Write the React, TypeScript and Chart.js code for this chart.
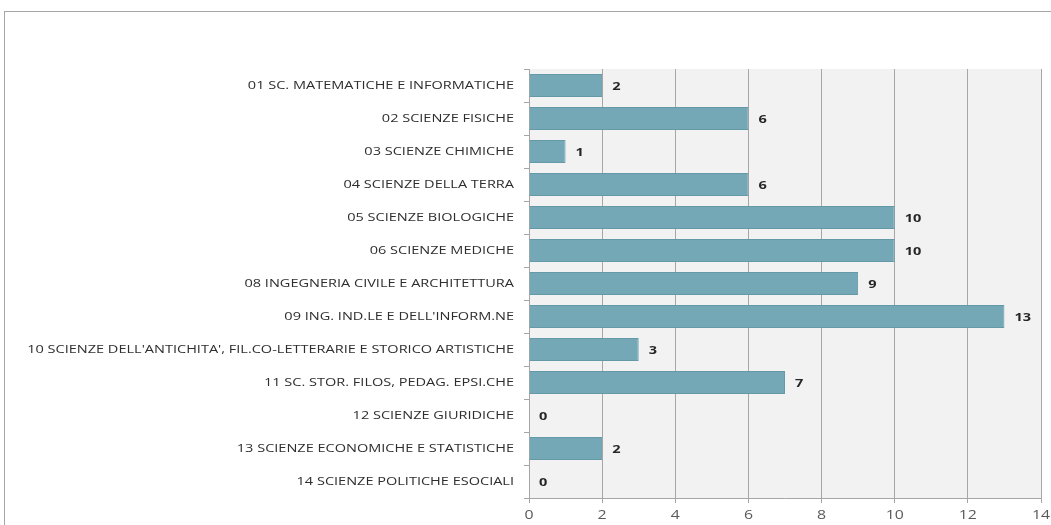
import React, { useEffect, useRef } from "react";
import { Chart, registerables } from "chart.js";

Chart.register(...registerables);

const categories: string[] = [
  "01 SC. MATEMATICHE E INFORMATICHE",
  "02 SCIENZE FISICHE",
  "03 SCIENZE CHIMICHE",
  "04 SCIENZE DELLA TERRA",
  "05 SCIENZE BIOLOGICHE",
  "06 SCIENZE MEDICHE",
  "08 INGEGNERIA CIVILE E ARCHITETTURA",
  "09 ING. IND.LE E DELL'INFORM.NE",
  "10 SCIENZE DELL'ANTICHITA', FIL.CO-LETTERARIE E STORICO ARTISTICHE",
  "11 SC. STOR. FILOS, PEDAG. EPSI.CHE",
  "12 SCIENZE GIURIDICHE",
  "13 SCIENZE ECONOMICHE E STATISTICHE",
  "14 SCIENZE POLITICHE ESOCIALI",
];
const values: number[] = [2, 6, 1, 6, 10, 10, 9, 13, 3, 7, 0, 2, 0];
const xTicks: number[] = [0, 2, 4, 6, 8, 10, 12, 14];

const FONT = "'Open Sans', sans-serif";
const SX = 1.32;

function stretchedText(ctx: CanvasRenderingContext2D, text: string, x: number, y: number, align: CanvasTextAlign) {
  ctx.save();
  ctx.translate(x, y);
  ctx.scale(SX, 1);
  ctx.textAlign = align;
  ctx.textBaseline = "middle";
  ctx.fillText(text, 0, 0);
  ctx.restore();
}

export default function App() {
  const ref = useRef<HTMLCanvasElement | null>(null);
  useEffect(() => {
    if (!ref.current) return;
    const bgPlugin = {
      id: "bgPlugin",
      beforeDraw(chart: any) {
        const { ctx, chartArea } = chart;
        ctx.save();
        ctx.fillStyle = "#ffffff";
        ctx.fillRect(0, 0, chart.width, chart.height);
        ctx.strokeStyle = "#a6a6a6";
        ctx.lineWidth = 1;
        ctx.strokeRect(4.5, 11.5, chart.width + 10, chart.height + 10);
        ctx.fillStyle = "#f2f2f2";
        ctx.fillRect(chartArea.left, chartArea.top, chartArea.right - chartArea.left, chartArea.bottom - chartArea.top);
        ctx.restore();
      },
    };
    const textPlugin = {
      id: "textPlugin",
      afterDraw(chart: any) {
        const { ctx, chartArea } = chart;
        const meta = chart.getDatasetMeta(0);
        const yScale = chart.scales.y;
        const xScale = chart.scales.x;
        ctx.save();
        // value labels
        ctx.font = `bold 11px ${FONT}`;
        ctx.fillStyle = "#262626";
        meta.data.forEach((bar: any, i: number) => {
          stretchedText(ctx, String(values[i]), bar.x + 10, bar.y + 1, "left");
        });
        // category labels
        ctx.font = `11px ${FONT}`;
        ctx.fillStyle = "#2e2e2e";
        categories.forEach((c, i) => {
          stretchedText(ctx, c, chartArea.left - 15, yScale.getPixelForValue(i), "right");
        });
        // x tick labels
        ctx.font = `12px ${FONT}`;
        ctx.fillStyle = "#595959";
        xTicks.forEach((v) => {
          stretchedText(ctx, String(v), xScale.getPixelForValue(v), chartArea.bottom + 18, "center");
        });
        ctx.restore();
      },
    };
    const chart = new Chart(ref.current, {
      type: "bar",
      data: {
        labels: categories,
        datasets: [
          {
            data: values,
            backgroundColor: "#74a8b7",
            borderColor: "#6499a8",
            borderWidth: 1,
            categoryPercentage: 0.7,
            barPercentage: 1,
          },
        ],
      },
      options: {
        indexAxis: "y",
        animation: false,
        responsive: false,
        maintainAspectRatio: false,
        layout: { padding: { left: 0, top: 69, right: 10, bottom: 0 } },
        plugins: {
          legend: { display: false },
          tooltip: { enabled: false },
        },
        scales: {
          x: {
            min: 0,
            max: 14,
            afterBuildTicks(scale: any) {
              scale.ticks = xTicks.map((v) => ({ value: v }));
            },
            afterFit(scale: any) {
              scale.height = 27;
            },
            grid: {
              color: "#a6a6a6",
              lineWidth: 1,
              drawTicks: true,
              tickLength: 5,
            },
            border: { display: true, color: "#a6a6a6" },
            ticks: { display: false },
          },
          y: {
            afterFit(scale: any) {
              scale.width = 529;
            },
            grid: {
              offset: true,
              drawOnChartArea: false,
              drawTicks: true,
              tickLength: 5,
              color: "#a6a6a6",
            },
            border: { display: true, color: "#a6a6a6" },
            ticks: { display: false, autoSkip: false },
          },
        },
      },
      plugins: [bgPlugin, textPlugin],
    });
    return () => chart.destroy();
  }, []);
  return (
    <div style={{ position: "fixed", left: 0, top: 0, width: 1051, height: 525, background: "#fff" }}>
      <canvas ref={ref} width={1051} height={525} style={{ display: "block", width: 1051, height: 525 }} />
    </div>
  );
}
